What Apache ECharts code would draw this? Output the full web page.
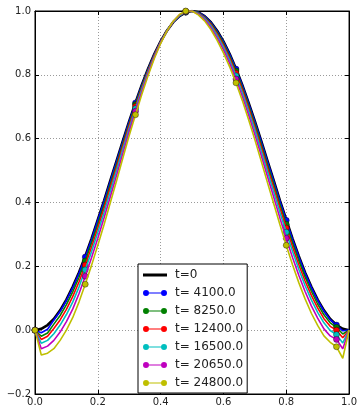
<!DOCTYPE html>
<html><head><meta charset="utf-8">
<script src="https://cdn.jsdelivr.net/npm/echarts@6/dist/echarts.min.js"></script>
<style>html,body{margin:0;padding:0;background:#fff}#c{width:360px;height:407px}</style>
</head><body><div id="c"></div>
<script>
const xValues = [0,0.02,0.04,0.06,0.08,0.10,0.12,0.14,0.16,0.18,0.20,0.22,0.24,0.26,0.28,0.30,0.32,0.34,0.36,0.38,0.40,0.42,0.44,0.46,0.48,0.50,0.52,0.54,0.56,0.58,0.60,0.62,0.64,0.66,0.68,0.70,0.72,0.74,0.76,0.78,0.80,0.82,0.84,0.86,0.88,0.90,0.92,0.94,0.96,0.98,1.00];

const seriesNames = ['t=0','t= 4100.0','t= 8250.0','t= 12400.0','t= 16500.0','t= 20650.0','t= 24800.0'];
const seriesColors = ['#000000','#0000ff','#008000','#ff0000','#00bfbf','#bf00bf','#bfbf00'];

const yT0 = [0,0.004,0.016,0.035,0.062,0.096,0.136,0.181,0.232,0.287,0.346,0.406,0.469,0.531,0.594,0.655,0.713,0.768,0.819,0.865,0.905,0.938,0.965,0.984,0.996,1.000,0.996,0.984,0.965,0.938,0.905,0.865,0.819,0.768,0.713,0.655,0.594,0.531,0.469,0.406,0.346,0.287,0.232,0.181,0.136,0.096,0.062,0.035,0.016,0.004,0];
const yT4100 = [0,-0.008,0.003,0.032,0.059,0.093,0.133,0.178,0.229,0.284,0.344,0.404,0.467,0.529,0.592,0.654,0.712,0.767,0.818,0.865,0.905,0.938,0.965,0.984,0.996,1.000,0.996,0.984,0.964,0.937,0.904,0.864,0.818,0.767,0.711,0.653,0.592,0.529,0.467,0.404,0.344,0.285,0.230,0.179,0.134,0.094,0.060,0.033,0.016,-0.002,0];
const yT8250 = [0,-0.019,-0.009,0.019,0.046,0.080,0.120,0.165,0.217,0.273,0.332,0.393,0.457,0.520,0.585,0.647,0.707,0.763,0.815,0.863,0.904,0.938,0.966,0.985,0.997,1.000,0.995,0.981,0.961,0.933,0.899,0.858,0.812,0.760,0.704,0.645,0.583,0.519,0.457,0.393,0.332,0.273,0.218,0.167,0.122,0.082,0.048,0.023,0.009,-0.012,0];
const yT12400 = [0,-0.029,-0.019,0.005,0.032,0.065,0.105,0.151,0.204,0.260,0.320,0.382,0.447,0.511,0.577,0.641,0.701,0.758,0.812,0.861,0.903,0.938,0.966,0.986,0.997,1.000,0.993,0.979,0.958,0.928,0.893,0.852,0.805,0.753,0.696,0.636,0.574,0.509,0.446,0.382,0.320,0.261,0.205,0.154,0.109,0.070,0.036,0.012,0.000,-0.024,0];
const yT16500 = [0,-0.041,-0.032,-0.011,0.016,0.049,0.088,0.135,0.189,0.246,0.307,0.369,0.435,0.501,0.568,0.633,0.694,0.753,0.808,0.858,0.902,0.938,0.966,0.986,0.998,1.000,0.992,0.977,0.954,0.923,0.887,0.845,0.797,0.744,0.687,0.627,0.563,0.498,0.434,0.369,0.307,0.247,0.191,0.140,0.095,0.056,0.023,-0.001,-0.014,-0.040,0];
const yT20650 = [0,-0.058,-0.050,-0.032,-0.006,0.027,0.066,0.114,0.169,0.227,0.288,0.352,0.419,0.486,0.555,0.623,0.686,0.746,0.803,0.855,0.900,0.937,0.967,0.988,0.999,1.000,0.990,0.973,0.948,0.916,0.879,0.836,0.787,0.733,0.675,0.613,0.549,0.482,0.417,0.351,0.288,0.228,0.172,0.121,0.076,0.038,0.004,-0.018,-0.029,-0.058,0];
const yT24800 = [0,-0.078,-0.072,-0.058,-0.032,0.000,0.039,0.088,0.144,0.203,0.266,0.331,0.400,0.469,0.540,0.610,0.675,0.738,0.797,0.851,0.898,0.937,0.968,0.989,1.000,1.000,0.988,0.969,0.942,0.908,0.869,0.825,0.775,0.720,0.660,0.597,0.531,0.463,0.397,0.330,0.266,0.205,0.149,0.098,0.053,0.015,-0.018,-0.038,-0.052,-0.088,0];

const seriesValues = [yT0,yT4100,yT8250,yT12400,yT16500,yT20650,yT24800];
const markerEvery = 8;

const FONT = 'DejaVu Sans';
const fmt = v => (v < -1e-9 ? '\u2212' : '') + Math.abs(v).toFixed(1);

// legend icons: 27x7 box (last 3px empty so that the text sits a bit further right)
const lineIcon = 'path://M0,0 L0.01,0 L0,0.01 Z M0,2 L24,2 L24,5 L0,5 Z M27,7 L26.99,7 L27,6.99 Z';
const markerIcon = 'path://M27,7 L26.99,7 L27,6.99 Z M6,3 L18,3 L18,4 L6,4 Z M0,3.5 A3,3 0 1,0 6,3.5 A3,3 0 1,0 0,3.5 Z M18,3.5 A3,3 0 1,0 24,3.5 A3,3 0 1,0 18,3.5 Z M0,0 L0.01,0 L0,0.01 Z';

const series = seriesValues.map((ys, k) => {
  const isRef = k === 0;
  return {
    name: seriesNames[k],
    type: 'line',
    xAxisIndex: 0, yAxisIndex: 0,
    data: xValues.map((x, i) => [x, ys[i]]),
    showAllSymbol: true,
    symbol: isRef ? 'none' : (v, p) => (p.dataIndex % markerEvery === 0 ? 'circle' : 'none'),
    symbolSize: 6,
    lineStyle: { color: seriesColors[k], width: isRef ? 2.6 : 1.6 },
    itemStyle: { color: seriesColors[k], borderColor: 'rgba(0,0,0,0.55)', borderWidth: 0.7 },
    emphasis: { disabled: true },
    z: 2 + k
  };
});

const chart = echarts.init(document.getElementById('c'));
chart.setOption({
  animation: false,
  backgroundColor: '#fff',
  grid: { left: 35, right: 7, top: 11, bottom: 10, show: true, borderColor: '#000', borderWidth: 1, backgroundColor: 'transparent' },
  xAxis: [
    { type: 'value', min: 0, max: 1, interval: 0.2, position: 'bottom',
      axisLine: { show: true, onZero: false, lineStyle: { color: '#000', width: 1 } },
      axisTick: { show: true, inside: true, length: 4, lineStyle: { color: '#000' } },
      axisLabel: { show: true, margin: 3, fontFamily: FONT, fontSize: 10, color: '#222', formatter: fmt },
      splitLine: { show: true, lineStyle: { color: '#9a9a9a', type: [1, 2], width: 1 } } },
    { type: 'value', min: 0, max: 1, interval: 0.2, position: 'top',
      axisLine: { show: true, onZero: false, lineStyle: { color: '#000', width: 1 } },
      axisTick: { show: true, inside: true, length: 4, lineStyle: { color: '#000' } },
      axisLabel: { show: false }, splitLine: { show: false } }
  ],
  yAxis: [
    { type: 'value', min: -0.2, max: 1.0, interval: 0.2, position: 'left',
      axisLine: { show: true, onZero: false, lineStyle: { color: '#000', width: 1 } },
      axisTick: { show: true, inside: true, length: 4, lineStyle: { color: '#000' } },
      axisLabel: { show: true, margin: 4, fontFamily: FONT, fontSize: 10, color: '#222', formatter: fmt },
      splitLine: { show: true, lineStyle: { color: '#9a9a9a', type: [1, 2], width: 1 } } },
    { type: 'value', min: -0.2, max: 1.0, interval: 0.2, position: 'right',
      axisLine: { show: true, onZero: false, lineStyle: { color: '#000', width: 1 } },
      axisTick: { show: true, inside: true, length: 4, lineStyle: { color: '#000' } },
      axisLabel: { show: false }, splitLine: { show: false } }
  ],
  legend: {
    orient: 'vertical', left: 138, top: 264,
    padding: [5, 4, 4, 5], itemGap: 6, itemWidth: 27, itemHeight: 7,
    backgroundColor: '#fff', borderColor: '#000', borderWidth: 1, borderRadius: 0,
    textStyle: { fontFamily: FONT, fontSize: 12, color: '#222' },
    itemStyle: { borderWidth: 0 },
    selectedMode: false,
    data: seriesNames.map((n, k) => ({ name: n, icon: k === 0 ? lineIcon : markerIcon })),
    z: 20
  },
  series: series
});
</script></body></html>
